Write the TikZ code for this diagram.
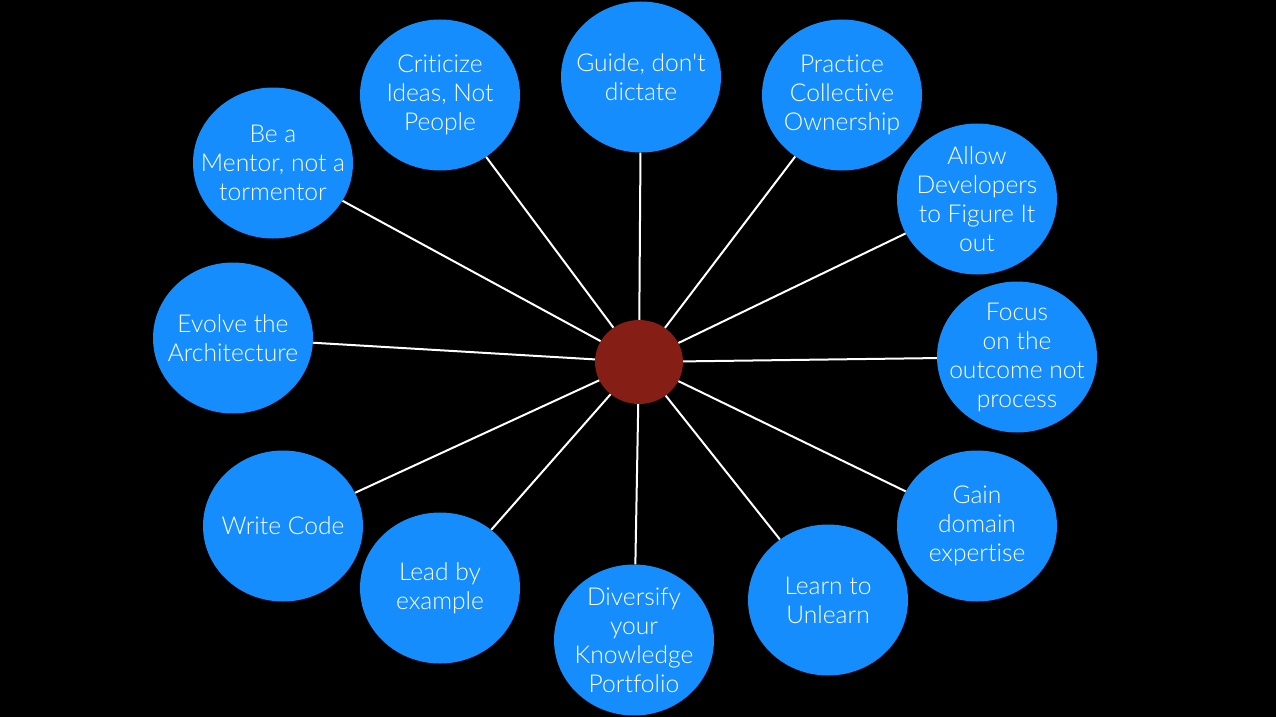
\documentclass[tikz,border=0pt]{standalone}
\usepackage{fontspec}
\setmainfont{Lato}[UprightFont={* Light}, Ligatures={NoCommon}]
\usetikzlibrary{shapes.geometric}
\definecolor{bubble}{RGB}{22,141,252}
\definecolor{hub}{RGB}{133,30,20}
\tikzset{
  bubble/.style={ellipse, fill=bubble, minimum width=160pt, minimum height=151pt,
    inner xsep=-45pt, inner ysep=-35pt,
    align=center, text=white, font=\fontsize{24.6pt}{29pt}\selectfont},
  hubnode/.style={ellipse, fill=hub, minimum width=88pt, minimum height=84pt, inner sep=0pt},
  spoke/.style={draw=white, line width=2pt}
}
\begin{document}
\begin{tikzpicture}[x=1pt,y=-1pt]
\fill[black] (0,0) rectangle (1276,717);
\useasboundingbox (0,0) rectangle (1276,717);
\node[hubnode] (c) at (639,362) {};
\node[bubble] (guide) at (641,77) {Guide, don\textquotesingle t\\dictate};
\node[bubble] (crit) at (440,95) {Criticize\\Ideas, Not\\People};
\node[bubble] (prac) at (842,95) {Practice\\Collective\\Ownership};
\node[bubble] (ment) at (273,163) {Be a\\Mentor, not a\\tormentor};
\node[bubble] (allow) at (977,199) {Allow\\Developers\\to Figure It\\out};
\node[bubble] (evol) at (233,338) {Evolve the\\Architecture};
\node[bubble] (focus) at (1017,357) {Focus\\on the\\outcome not\\process};
\node[bubble] (code) at (283,526) {Write Code};
\node[bubble] (gain) at (977,526) {Gain\\domain\\expertise};
\node[bubble] (lead) at (440,588) {Lead by\\example};
\node[bubble] (div) at (634,640) {Diversify\\your\\Knowledge\\Portfolio};
\node[bubble] (learn) at (828,600) {Learn to\\Unlearn};
\foreach \n in {guide,crit,prac,ment,allow,evol,focus,code,gain,lead,div,learn}
  \draw[spoke] (c) -- (\n);
\end{tikzpicture}
\end{document}
